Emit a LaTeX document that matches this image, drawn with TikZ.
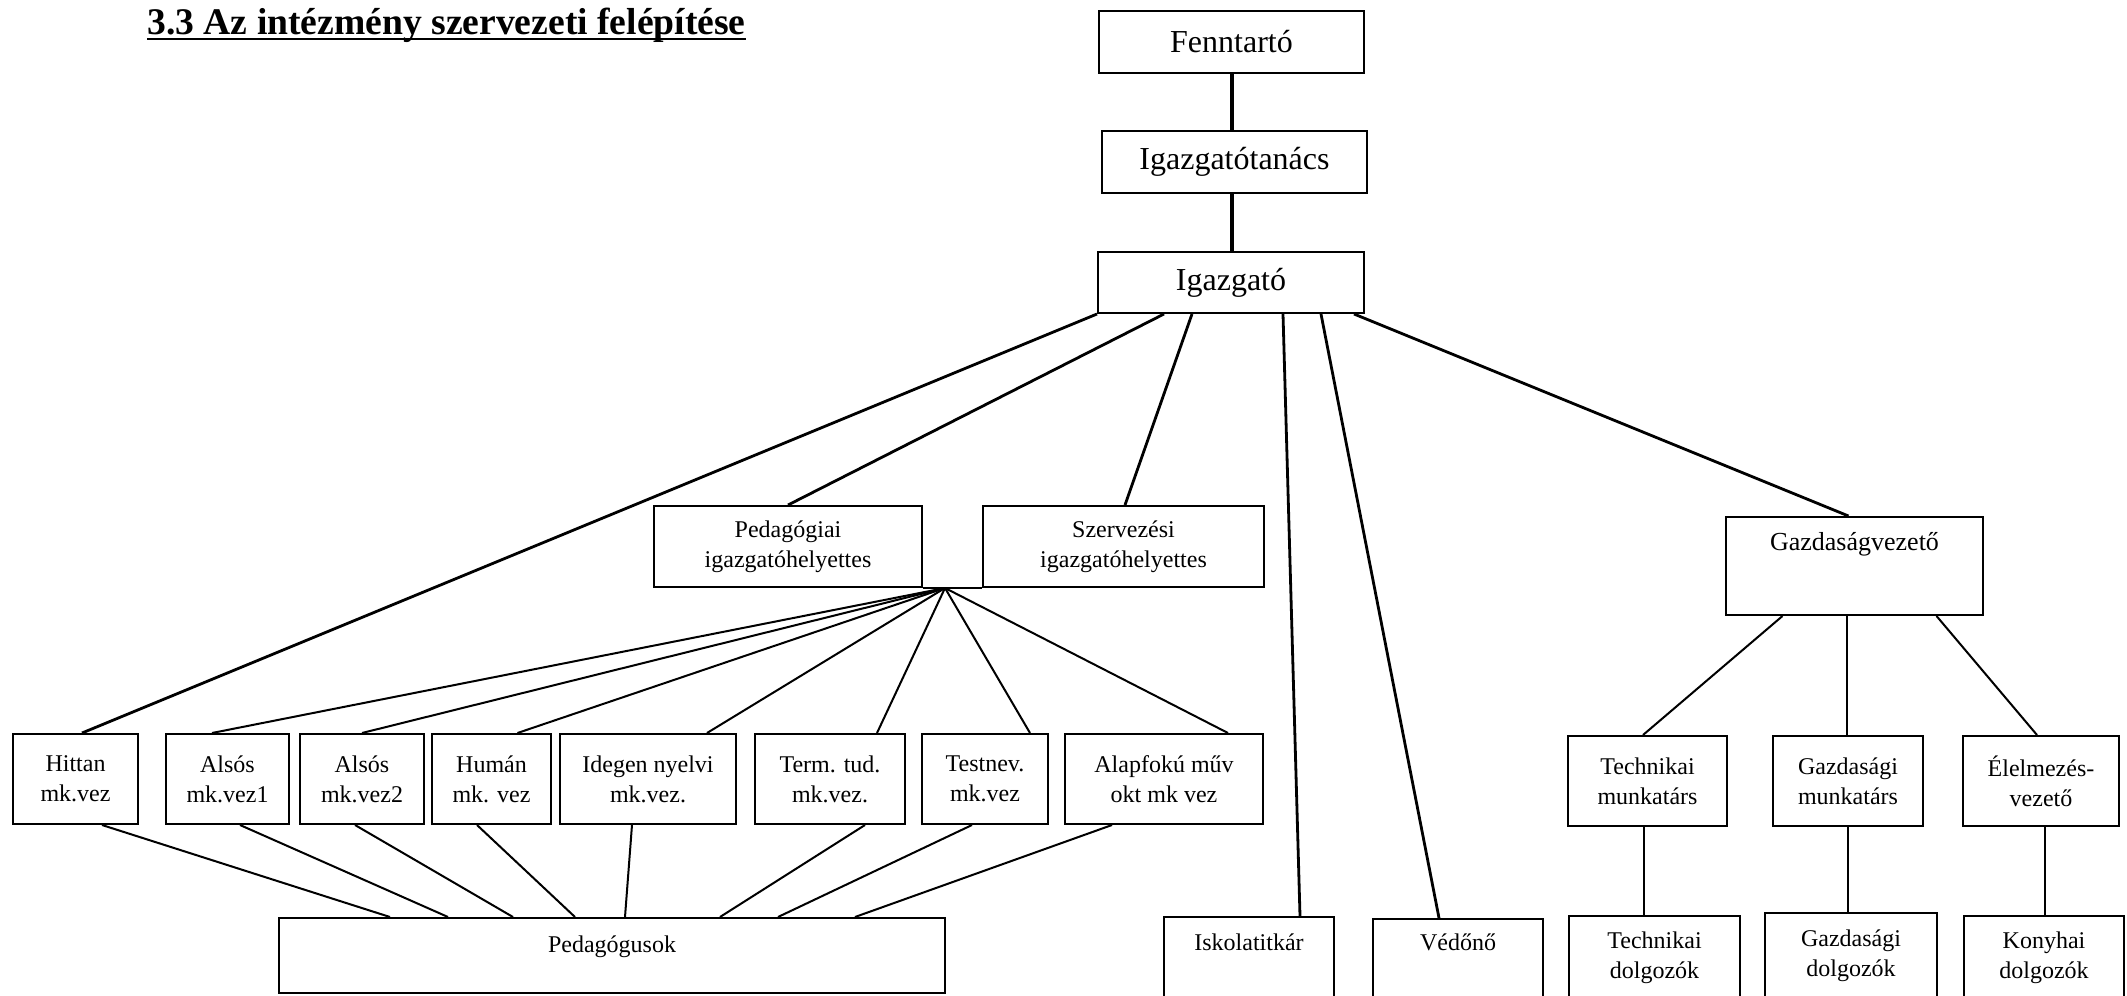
\documentclass[tikz,border=0pt]{standalone}
\usepackage{fontspec}
\setmainfont{Liberation Serif}

\begin{document}
\begin{tikzpicture}[x=0.5pt, y=-0.5pt,
    box/.style={draw, line width=1pt, align=center, inner sep=1pt,
      font=\fontsize{12}{15}\selectfont},
    bigbox/.style={box, font=\fontsize{16}{19}\selectfont},
    trunk/.style={line width=2pt},
    branch/.style={line width=1.4pt},
    link/.style={line width=1pt}]

        \useasboundingbox (0,0) rectangle (2127,996);
        \clip (0,0) rectangle (2127,996);

        \node[font=\bfseries\fontsize{18.8}{21}\selectfont, inner sep=0pt, anchor=base west] (title) at (147,34) {3.3 Az intézmény szervezeti felépítése};
        \draw[line width=1.1pt] ([yshift=-2.5pt]title.base west) -- ([yshift=-2.5pt]title.base east);

        % vezetes
        \node[bigbox, minimum width=132.5pt, minimum height=31pt] (fenn) at (1231.5,42) {Fenntartó};
        \node[bigbox, minimum width=132.5pt, minimum height=31pt] (tanacs) at (1234.5,162) {Igazgatótanács};
        \node[bigbox, minimum width=133pt, minimum height=30.5pt] (igazg) at (1231,282.5) {Igazgató};

        \node[box, minimum width=134pt, minimum height=40.5pt] (pedh) at (788,546.5) {Pedagógiai\\igazgatóhelyettes};
        \node[box, minimum width=140.5pt, minimum height=40.5pt] (szerh) at (1123.5,546.5) {Szervezési\\igazgatóhelyettes};
        \node[box, font=\fontsize{13}{15}\selectfont, minimum width=128.5pt, inner ysep=0pt,
              text height=16.5pt, text depth=32.5pt] (gazdv) at (1854.5,566) {Gazdaságvezető};

        % munkakozossegek
        \node[box, minimum width=62.5pt, minimum height=45pt] (hittan) at (75.5,779) {Hittan\\mk.vez};
        \node[box, minimum width=61.5pt, minimum height=45pt] (also1) at (227.5,779) {Alsós\\mk.vez1};
        \node[box, minimum width=62pt, minimum height=45pt] (also2) at (362,779) {Alsós\\mk.vez2};
        \node[box, minimum width=59.5pt, minimum height=45pt] (human) at (491.5,779) {Humán\\mk. vez};
        \node[box, minimum width=88pt, minimum height=45pt] (idegen) at (648,779) {Idegen nyelvi\\mk.vez.};
        \node[box, minimum width=75pt, minimum height=45pt] (term) at (830,779) {Term. tud.\\mk.vez.};
        \node[box, minimum width=63pt, minimum height=45pt] (testnev) at (985,779) {Testnev.\\mk.vez};
        \node[box, minimum width=99pt, minimum height=45pt] (alapf) at (1164,779) {Alapfokú műv\\okt mk vez};

        \node[box, minimum width=79.5pt, minimum height=45pt] (techm) at (1647.5,781) {Technikai\\munkatárs};
        \node[box, minimum width=75pt, minimum height=45pt] (gazdm) at (1848,781) {Gazdasági\\munkatárs};
        \node[box, minimum width=78pt, minimum height=45pt] (elelm) at (2041,781) {Élelmezés-\\vezető};

        % also sor
        \node[box, minimum width=333pt, inner ysep=0pt, text height=17pt, text depth=20.5pt] (pedag) at (612,955.5) {Pedagógusok};
        \node[box, minimum width=85pt, inner ysep=0pt, text height=16.5pt, text depth=43.5pt] (iskola) at (1249,977) {Iskolatitkár};
        \node[box, minimum width=85pt, inner ysep=0pt, text height=15.5pt, text depth=44.5pt] (vedo) at (1458,979) {Védőnő};
        \node[box, minimum width=85.5pt, minimum height=42pt] (techd) at (1654.5,958) {Technikai\\dolgozók};
        \node[box, minimum width=86pt, minimum height=43pt] (gazdd) at (1851,956) {Gazdasági\\dolgozók};
        \node[box, minimum width=80pt, minimum height=42pt] (konyd) at (2044,958) {Konyhai\\dolgozók};

        \draw[trunk] (fenn) -- (fenn |- tanacs.north);
        \draw[trunk] (fenn |- tanacs.south) -- (fenn |- igazg.north);

        \draw[branch] (igazg.south west) -- ([xshift=3.25pt]hittan.north);
        \draw[branch] ([xshift=-33.5pt]igazg.south) -- (pedh.north);
        \draw[branch] ([xshift=-19.5pt]igazg.south) -- ([xshift=0.75pt]szerh.north);
        \draw[branch] ([xshift=26pt]igazg.south) -- ([xshift=25.5pt]iskola.north);
        \draw[branch] ([xshift=45pt]igazg.south) -- ([xshift=-9.5pt]vedo.north);
        \draw[branch] ([xshift=61.5pt]igazg.south) -- ([xshift=-3pt]gazdv.north);

        % helyettesek alatt
        \draw[link] (pedh.south east) -- (szerh.south west);
        \coordinate (hub) at ([xshift=11pt]pedh.south east);

        \draw[link] (hub) -- ([xshift=-7.75pt]also1.north);
        \draw[link] (hub) -- (also2.north);
        \draw[link] (hub) -- ([xshift=13pt]human.north);
        \draw[link] (hub) -- ([xshift=29.5pt]idegen.north);
        \draw[link] (hub) -- ([xshift=23.5pt]term.north);
        \draw[link] (hub) -- ([xshift=22.5pt]testnev.north);
        \draw[link] (hub) -- ([xshift=32pt]alapf.north);

        \draw[link] ([xshift=13.25pt]hittan.south) -- ([xshift=-111pt]pedag.north);
        \draw[link] ([xshift=6.25pt]also1.south) -- ([xshift=-82pt]pedag.north);
        \draw[link] ([xshift=-3.5pt]also2.south) -- ([xshift=-49.5pt]pedag.north);
        \draw[link] ([xshift=-7.25pt]human.south) -- ([xshift=-18.5pt]pedag.north);
        \draw[link] ([xshift=-8pt]idegen.south) -- ([xshift=6.5pt]pedag.north);
        \draw[link] ([xshift=17.5pt]term.south) -- ([xshift=54pt]pedag.north);
        \draw[link] ([xshift=-6.5pt]testnev.south) -- ([xshift=83pt]pedag.north);
        \draw[link] ([xshift=-26pt]alapf.south) -- ([xshift=121.5pt]pedag.north);

        % gazdasagi ag
        \draw[link] ([xshift=-36pt]gazdv.south) -- ([xshift=-2.25pt]techm.north);
        \draw[link] ([xshift=-3.75pt]gazdv.south) -- ([xshift=-0.5pt]gazdm.north);
        \draw[link] ([xshift=41pt]gazdv.south) -- ([xshift=-2pt]elelm.north);

        \draw[link] ([xshift=-2pt]techm.south) -- ([xshift=-2pt]techm.south |- techd.north);
        \draw[link] (gazdm.south) -- (gazdm.south |- gazdd.north);
        \draw[link] ([xshift=2pt]elelm.south) -- ([xshift=2pt]elelm.south |- konyd.north);

      \end{tikzpicture}
\end{document}
